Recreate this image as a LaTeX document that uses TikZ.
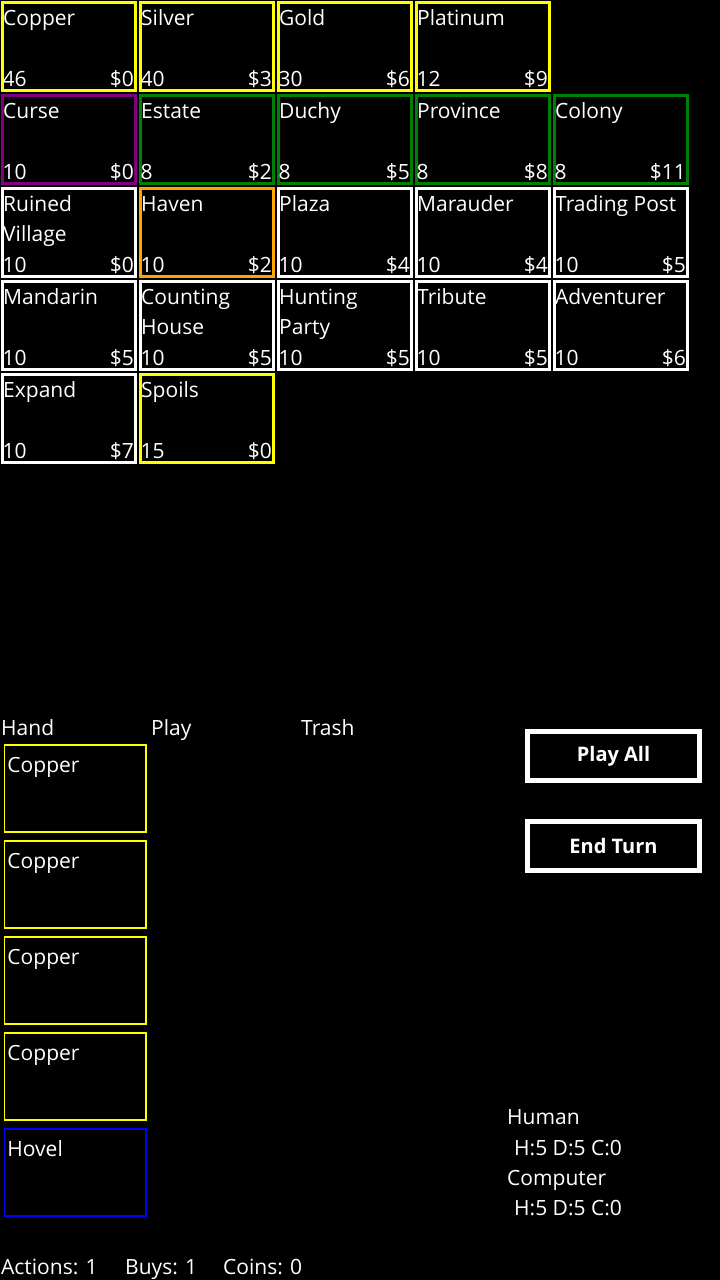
\documentclass[tikz,border=0pt]{standalone}
\usepackage{fontspec}
\setmainfont{Open Sans}
\usetikzlibrary{positioning}

\definecolor{treasure}{HTML}{FFFF00}
\definecolor{cursed}{HTML}{800080}
\definecolor{victory}{HTML}{008000}
\definecolor{reaction}{HTML}{FFA500}
\definecolor{shelter}{HTML}{0000FF}

\tikzset{
  supply/.style={draw=#1, line width=3pt, minimum width=133pt, minimum height=88pt, inner sep=0pt},
  handcard/.style={draw=#1, line width=1.5pt, minimum width=141.5pt, minimum height=87pt, inner sep=0pt},
  txt/.style={text=white, inner sep=0pt, font=\fontsize{21}{30}\selectfont},
  button/.style={draw=white, line width=4.5pt, minimum width=172pt, minimum height=49pt,
    inner sep=0pt, text=white, font=\fontsize{20}{24}\selectfont\bfseries},
}

\begin{document}
\begin{tikzpicture}[x=1pt,y=-1pt]
  \fill[black] (0,0) rectangle (720,1280);
  \useasboundingbox (0,0) rectangle (720,1280);

  % supply piles
  \foreach \id/\nm/\cl/\rw/\clr/\cnt/\cst in {
      copper/Copper/0/0/treasure/46/0, silver/Silver/1/0/treasure/40/3,
      gold/Gold/2/0/treasure/30/6, platinum/Platinum/3/0/treasure/12/9,
      curse/Curse/0/1/cursed/10/0, estate/Estate/1/1/victory/8/2,
      duchy/Duchy/2/1/victory/8/5, province/Province/3/1/victory/8/8,
      colony/Colony/4/1/victory/8/11,
      ruinedvillage/{Ruined\\Village}/0/2/white/10/0, haven/Haven/1/2/reaction/10/2,
      plaza/Plaza/2/2/white/10/4, marauder/Marauder/3/2/white/10/4,
      tradingpost/Trading Post/4/2/white/10/5,
      mandarin/Mandarin/0/3/white/10/5, countinghouse/{Counting\\House}/1/3/white/10/5,
      huntingparty/{Hunting\\Party}/2/3/white/10/5, tribute/Tribute/3/3/white/10/5,
      adventurer/Adventurer/4/3/white/10/6,
      expand/Expand/0/4/white/10/7, spoils/Spoils/1/4/treasure/15/0}
  {
    \node[supply=\clr] (\id) at (69+138*\cl, 46.5+93*\rw) {};
    \node[txt, anchor=base west] (\id-name) at ([xshift=2pt,yshift=-24.5pt]\id.north west)
      {\parbox[t]{130pt}{\nm}};
    \node[txt, anchor=base west] (\id-count) at ([xshift=1.5pt,yshift=5.5pt]\id.south west) {\cnt};
    \node[txt, anchor=base east] (\id-cost) at ([xshift=-3pt,yshift=5.5pt]\id.south east) {\$\cst};
  }

  % hand
  \node[txt, anchor=base west] (hand) at (1,735) {Hand};
  \node[txt, anchor=base west] (play) at (151,735) {Play};
  \node[txt, anchor=base west] (trash) at (301,735) {Trash};

  \foreach \id/\nm/\clr [count=\k from 0] in {
      hand1/Copper/treasure, hand2/Copper/treasure, hand3/Copper/treasure,
      hand4/Copper/treasure, hovel/Hovel/shelter}
  {
    \node[handcard=\clr] (\id) at (75.25, 788.5+96*\k) {};
    \node[txt, anchor=base west] (\id-name) at ([xshift=3.5pt,yshift=-28pt]\id.north west) {\nm};
  }

  % buttons
  \node[button] (playall) at (613.5,756) {Play All};
  \node[button] (endturn) at (613.5,846) {End Turn};

  % players
  \node[txt, anchor=base west] (human) at (507,1124) {Human};
  \node[txt, anchor=base west] (humanstat) at (514,1155) {H:5 D:5 C:0};
  \node[txt, anchor=base west] (computer) at (507,1185) {Computer};
  \node[txt, anchor=base west] (computerstat) at (514,1215) {H:5 D:5 C:0};

  % turn status
  \node[txt, anchor=base west] (actions) at (1,1274) {Actions: 1};
  \node[txt, anchor=base west] (buys) at (125,1274) {Buys: 1};
  \node[txt, anchor=base west] (coins) at (223,1274) {Coins: 0};
\end{tikzpicture}
\end{document}
